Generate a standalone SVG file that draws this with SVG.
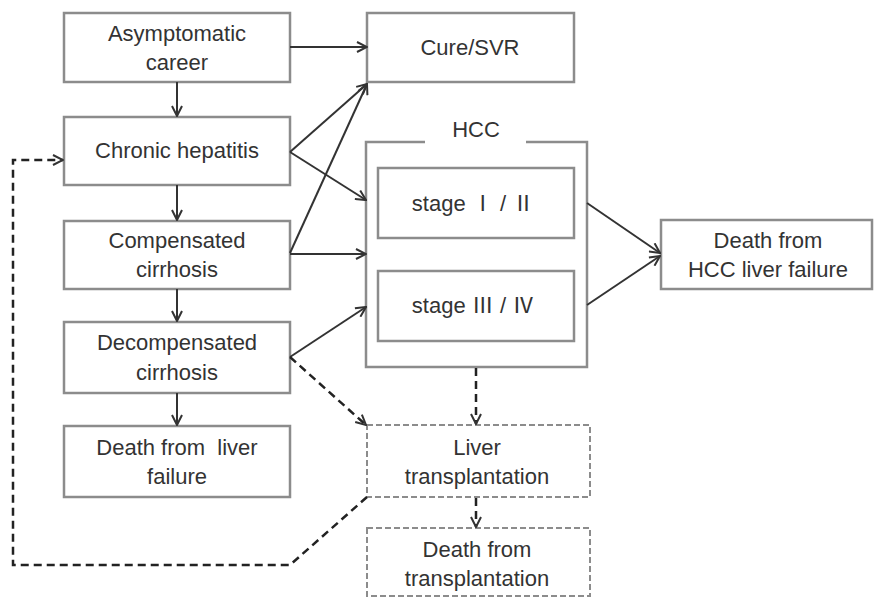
<svg xmlns="http://www.w3.org/2000/svg" width="884" height="598" viewBox="0 0 884 598">
<defs>
<marker id="ah" viewBox="0 0 12 12" refX="11" refY="6" markerWidth="12" markerHeight="12" markerUnits="userSpaceOnUse" orient="auto">
<path d="M1,1 L11,6 L1,11" fill="none" stroke="#333" stroke-width="2"/>
</marker>
</defs>
<style>
.box{fill:#fff;stroke:#8c8c8c;stroke-width:2.5}
.dbox{fill:#fff;stroke:#8c8c8c;stroke-width:2;stroke-dasharray:6 3}
.t{font-family:"Liberation Sans",Arial,sans-serif;font-size:22px;fill:#333;text-anchor:middle}
.s{font-family:"Liberation Sans","Noto Sans CJK JP",sans-serif;font-size:22px;fill:#333;text-anchor:middle}
.c{fill:none;stroke:#333;stroke-width:2;marker-end:url(#ah)}
.d{fill:none;stroke:#222;stroke-width:2.5;stroke-dasharray:8 5}
.dm{marker-end:url(#ah)}
</style>
<rect width="884" height="598" fill="#fff"/>
<g id="asymptomatic"><rect class="box" x="64" y="13" width="226" height="69"/><text class="t" x="177" y="41">Asymptomatic</text><text class="t" x="177" y="70">career</text></g>
<g id="chronic"><rect class="box" x="64" y="117" width="226" height="68"/><text class="t" x="177" y="158">Chronic hepatitis</text></g>
<g id="compensated"><rect class="box" x="64" y="221" width="226" height="68"/><text class="t" x="177" y="248">Compensated</text><text class="t" x="177" y="277">cirrhosis</text></g>
<g id="decompensated"><rect class="box" x="64" y="322" width="226" height="71"/><text class="t" x="177" y="350">Decompensated</text><text class="t" x="177" y="380">cirrhosis</text></g>
<g id="death-liver"><rect class="box" x="64" y="426" width="226" height="71"/><text class="t" x="177" y="455" xml:space="preserve">Death from  liver</text><text class="t" x="177" y="484">failure</text></g>
<g id="cure"><rect class="box" x="367" y="13" width="207" height="69"/><text class="t" x="470" y="55">Cure/SVR</text></g>
<g id="hcc"><path d="M425,142 L366,142 L366,367 L587,367 L587,142 L526,142" fill="none" stroke="#8c8c8c" stroke-width="2.5"/><text class="t" x="476" y="137">HCC</text></g>
<g id="stage12"><rect class="box" x="378" y="168" width="196" height="70"/><text class="s" x="473" y="211">stage  Ⅰ / Ⅱ</text></g>
<g id="stage34"><rect class="box" x="378" y="271" width="196" height="70"/><text class="s" x="473" y="313">stage  Ⅲ / Ⅳ</text></g>
<g id="death-hcc"><rect class="box" x="661" y="220" width="211" height="69"/><text class="t" x="768" y="248">Death from</text><text class="t" x="768" y="277">HCC liver failure</text></g>
<g id="liver-tx"><rect class="dbox" x="367" y="425" width="223" height="72"/><text class="t" x="477" y="455">Liver</text><text class="t" x="477" y="484">transplantation</text></g>
<g id="death-tx"><rect class="dbox" x="367" y="528" width="223" height="68"/><text class="t" x="477" y="557">Death from</text><text class="t" x="477" y="586">transplantation</text></g>
<g id="connectors">
<line class="c" x1="290" y1="47" x2="367" y2="47"/>
<line class="c" x1="177" y1="82" x2="177" y2="116"/>
<line class="c" x1="177" y1="185" x2="177" y2="220"/>
<line class="c" x1="177" y1="289" x2="177" y2="321"/>
<line class="c" x1="177" y1="393" x2="177" y2="425"/>
<line class="c" x1="290" y1="152" x2="367" y2="84"/>
<line class="c" x1="290" y1="152" x2="366" y2="200"/>
<line class="c" x1="290" y1="253" x2="367" y2="84"/>
<line class="c" x1="290" y1="254" x2="366" y2="254"/>
<line class="c" x1="290" y1="357" x2="366" y2="307"/>
<line class="c" x1="587" y1="203" x2="660" y2="253"/>
<line class="c" x1="587" y1="305" x2="660" y2="256"/>
<line class="d dm" x1="290" y1="357" x2="366" y2="425"/>
<line class="d dm" x1="476" y1="368" x2="476" y2="424"/>
<line class="d dm" x1="476" y1="498" x2="476" y2="527"/>
<path class="d dm" d="M367,497 L290,565 L13,565 L13,160 L63,160"/>
</g>
</svg>
